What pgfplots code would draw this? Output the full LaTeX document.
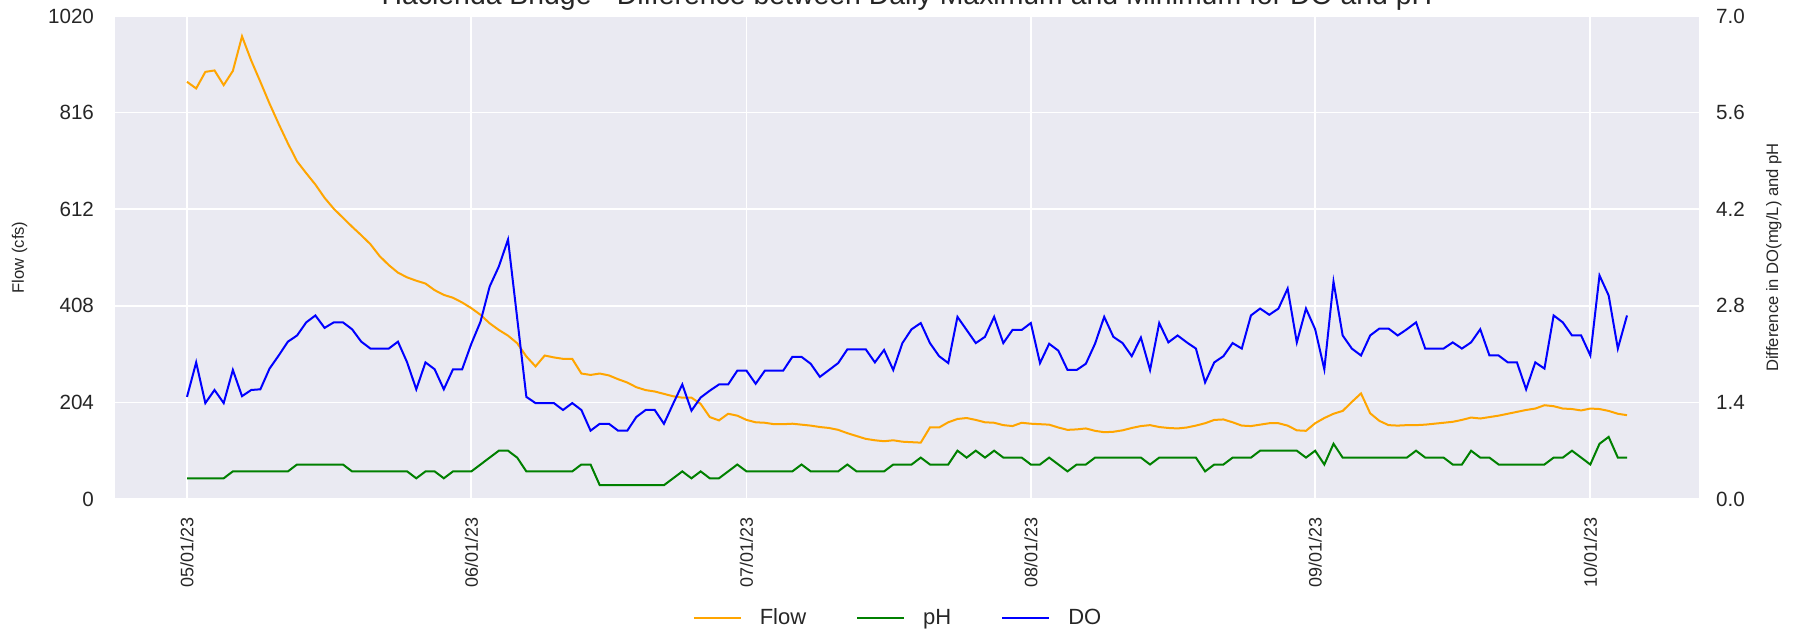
\documentclass[border=0pt]{standalone}
\usepackage{pgfplots}
\usepackage{pgfplotstable}
\pgfplotsset{compat=1.18}
\usepackage{fontspec}
\setmainfont{Liberation Sans}
\definecolor{bgc}{HTML}{EAEAF2}
\definecolor{txt}{HTML}{262626}
\definecolor{flowc}{HTML}{FFA500}
\definecolor{phc}{HTML}{008000}
\definecolor{doc}{HTML}{0000FF}

\pgfplotstableread{
day flow
0 881
1 867
2 902
3 905
4 874
5 904
6 977
7 926
8 881
9 835
10 792
11 751
12 713
13 688
14 664
15 636
16 613
17 594
18 575
19 557
20 538
21 513
22 494
23 478
24 468
25 461
26 455
27 441
28 431
29 425
30 415
31 403
32 389
33 371
34 357
35 345
36 329
37 301
38 280
39 303
40 299
41 296
42 296
43 265
44 262
45 265
46 261
47 253
48 246
49 236
50 230
51 227
52 222
53 217
54 214
55 214
56 201
57 173
58 166
59 180
60 176
61 167
62 162
63 161
64 158
65 158
66 159
67 157
68 155
69 152
70 150
71 146
72 139
73 133
74 127
75 124
76 122
77 124
78 121
79 120
80 119
81 151
82 151
83 162
84 169
85 171
86 167
87 162
88 161
89 156
90 154
91 161
92 159
93 158
94 157
95 151
96 146
97 147
98 149
99 144
100 141
101 142
102 145
103 150
104 154
105 156
106 152
107 150
108 149
109 151
110 155
111 160
112 167
113 168
114 162
115 155
116 154
117 157
118 160
119 160
120 155
121 145
122 144
123 160
124 171
125 180
126 186
127 205
128 223
129 181
130 165
131 156
132 155
133 156
134 156
135 157
136 159
137 161
138 163
139 167
140 172
141 170
142 173
143 176
144 180
145 184
146 188
147 191
148 198
149 196
150 191
151 190
152 187
153 191
154 190
155 186
156 180
157 177
}\flowtable

\pgfplotstableread{
day ph do
0 0.3 1.48
1 0.3 1.98
2 0.3 1.39
3 0.3 1.58
4 0.3 1.39
5 0.4 1.87
6 0.4 1.49
7 0.4 1.58
8 0.4 1.59
9 0.4 1.89
10 0.4 2.08
11 0.4 2.28
12 0.5 2.37
13 0.5 2.56
14 0.5 2.66
15 0.5 2.48
16 0.5 2.56
17 0.5 2.56
18 0.4 2.46
19 0.4 2.28
20 0.4 2.18
21 0.4 2.18
22 0.4 2.18
23 0.4 2.28
24 0.4 1.98
25 0.3 1.59
26 0.4 1.98
27 0.4 1.88
28 0.3 1.59
29 0.4 1.88
30 0.4 1.88
31 0.4 2.25
32 0.5 2.57
33 0.6 3.08
34 0.7 3.37
35 0.7 3.76
36 0.6 2.62
37 0.4 1.48
38 0.4 1.39
39 0.4 1.39
40 0.4 1.39
41 0.4 1.29
42 0.4 1.39
43 0.5 1.29
44 0.5 0.99
45 0.2 1.09
46 0.2 1.09
47 0.2 0.99
48 0.2 0.99
49 0.2 1.19
50 0.2 1.29
51 0.2 1.29
52 0.2 1.09
53 0.3 1.38
54 0.4 1.66
55 0.3 1.28
56 0.4 1.47
57 0.3 1.57
58 0.3 1.66
59 0.4 1.66
60 0.5 1.86
61 0.4 1.86
62 0.4 1.67
63 0.4 1.86
64 0.4 1.86
65 0.4 1.86
66 0.4 2.06
67 0.5 2.06
68 0.4 1.96
69 0.4 1.77
70 0.4 1.87
71 0.4 1.97
72 0.5 2.17
73 0.4 2.17
74 0.4 2.17
75 0.4 1.98
76 0.4 2.16
77 0.5 1.87
78 0.5 2.26
79 0.5 2.46
80 0.6 2.55
81 0.5 2.26
82 0.5 2.07
83 0.5 1.97
84 0.7 2.64
85 0.6 2.45
86 0.7 2.26
87 0.6 2.35
88 0.7 2.64
89 0.6 2.26
90 0.6 2.45
91 0.6 2.45
92 0.5 2.55
93 0.5 1.97
94 0.6 2.25
95 0.5 2.15
96 0.4 1.87
97 0.5 1.87
98 0.5 1.96
99 0.6 2.25
100 0.6 2.64
101 0.6 2.35
102 0.6 2.26
103 0.6 2.07
104 0.6 2.34
105 0.5 1.87
106 0.6 2.55
107 0.6 2.27
108 0.6 2.37
109 0.6 2.27
110 0.6 2.18
111 0.4 1.69
112 0.5 1.98
113 0.5 2.07
114 0.6 2.26
115 0.6 2.18
116 0.6 2.66
117 0.7 2.76
118 0.7 2.67
119 0.7 2.76
120 0.7 3.05
121 0.7 2.27
122 0.6 2.76
123 0.7 2.46
124 0.5 1.88
125 0.8 3.15
126 0.6 2.37
127 0.6 2.18
128 0.6 2.08
129 0.6 2.37
130 0.6 2.47
131 0.6 2.47
132 0.6 2.37
133 0.6 2.46
134 0.7 2.56
135 0.6 2.18
136 0.6 2.18
137 0.6 2.18
138 0.5 2.27
139 0.5 2.18
140 0.7 2.27
141 0.6 2.46
142 0.6 2.08
143 0.5 2.08
144 0.5 1.98
145 0.5 1.98
146 0.5 1.59
147 0.5 1.98
148 0.5 1.89
149 0.6 2.66
150 0.6 2.56
151 0.7 2.37
152 0.6 2.37
153 0.5 2.08
154 0.8 3.24
155 0.9 2.95
156 0.6 2.18
157 0.6 2.66
}\wqtable

\begin{document}
\begin{tikzpicture}
\begin{axis}[
  scale only axis, width=792pt, height=241.5pt,
  xmin=-7.85, xmax=164.85, ymin=0, ymax=1020,
  axis background/.style={fill=bgc},
  axis line style={draw=none},
  major tick length=0pt,
  xtick={0,31,61,92,123,153},
  xticklabels={05/01/23,06/01/23,07/01/23,08/01/23,09/01/23,10/01/23},
  xticklabel style={rotate=90, anchor=east, font=\fontsize{9}{11}\selectfont, text=txt, xshift=-5.5pt},
  ytick={0,204,408,612,816,1020},
  yticklabels={0,204,408,612,816,1020},
  yticklabel style={font=\fontsize{10.3}{12}\selectfont, text=txt, xshift=-7pt},
  grid=major, major grid style={white, line width=0.9pt},
  ylabel={Flow (cfs)},
  every axis y label/.style={at={(axis description cs:-0.0602,0.5)}, rotate=90, anchor=center, font=\fontsize{8.3}{10}\selectfont, text=txt},
  title={Hacienda Bridge - Difference between Daily Maximum and Minimum for DO and pH},
  every axis title/.style={at={(axis description cs:0.5,1)}, anchor=base, yshift=5.5pt, font=\fontsize{14.2}{16}\selectfont, text=txt},
]
\addplot[flowc, line width=1pt] table[x=day, y=flow]{\flowtable};
\end{axis}
\begin{axis}[
  scale only axis, width=792pt, height=241.5pt,
  xmin=-7.85, xmax=164.85, ymin=0, ymax=7,
  hide x axis,
  axis y line*=right,
  axis line style={draw=none},
  major tick length=0pt,
  ytick={0,1.4,2.8,4.2,5.6,7},
  yticklabels={0.0,1.4,2.8,4.2,5.6,7.0},
  yticklabel style={font=\fontsize{10.3}{12}\selectfont, text=txt, xshift=5pt},
  ylabel={Difference in DO(mg/L) and pH},
  every axis y label/.style={at={(axis description cs:1.0473,0.5)}, rotate=90, anchor=center, font=\fontsize{8.3}{10}\selectfont, text=txt},
  legend columns=3,
  legend style={at={(axis description cs:0.495,-0.2474)}, anchor=center, draw=none, fill=none, font=\fontsize{11}{13}\selectfont, text=txt,
    /tikz/every odd column/.append style={column sep=7pt},
    /tikz/every even column/.append style={column sep=23pt}},
  legend image code/.code={\draw[#1] (0pt,0pt) -- (23.5pt,0pt);},
]
\addlegendimage{flowc, line width=1pt}
\addlegendentry{Flow}
\addplot[phc, line width=1pt] table[x=day, y=ph]{\wqtable};
\addlegendentry{pH}
\addplot[doc, line width=1pt] table[x=day, y=do]{\wqtable};
\addlegendentry{DO}
\end{axis}
\pgfresetboundingbox
\path[use as bounding box] (-57.5pt,-66.5pt) rectangle (845.5pt,249.5pt);
\end{tikzpicture}
\end{document}
